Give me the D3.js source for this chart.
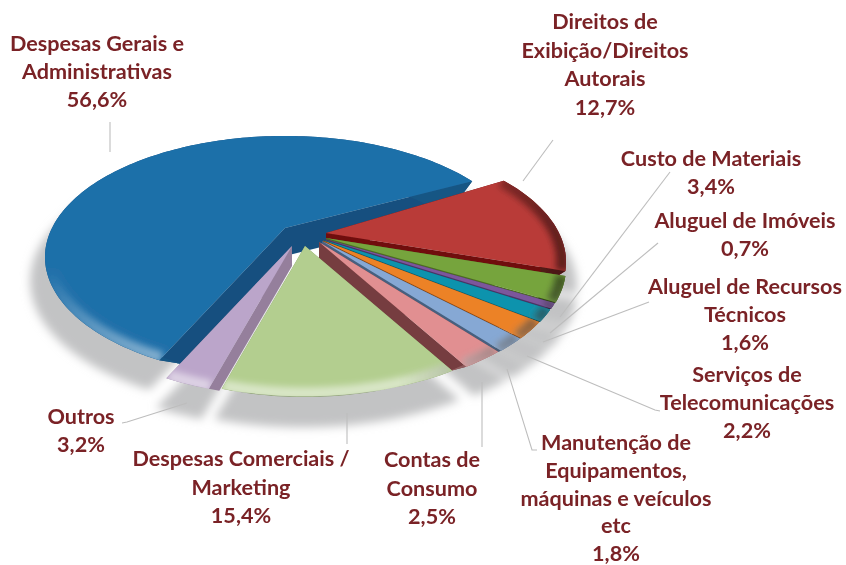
<!DOCTYPE html>
<html><head><meta charset="utf-8">
<script src="https://cdn.jsdelivr.net/npm/d3@7/dist/d3.min.js"></script>
<style>html,body{margin:0;padding:0;background:#fff}svg{display:block}
text{font-family:Lato,"Open Sans",sans-serif;font-weight:700;fill:#7a2326;text-anchor:middle}</style>
</head><body><div id="chart"></div>
<script>
// ---- data (clockwise from the start of the red slice)
const categories = ["Direitos de Exibição/Direitos Autorais","Custo de Materiais","Aluguel de Imóveis","Aluguel de Recursos Técnicos","Serviços de Telecomunicações","Manutenção de Equipamentos, máquinas e veículos etc","Contas de Consumo","Despesas Comerciais / Marketing","Outros","Despesas Gerais e Administrativas"];
const values = [12.7,3.4,0.7,1.6,2.2,1.8,2.5,15.4,3.2,56.6];
const valueLabels = ["12,7%","3,4%","0,7%","1,6%","2,2%","1,8%","2,5%","15,4%","3,2%","56,6%"];
const labelLines = [
 ["Direitos de","Exibição/Direitos","Autorais","12,7%"],["Custo de Materiais","3,4%"],["Aluguel de Imóveis","0,7%"],
 ["Aluguel de Recursos","Técnicos","1,6%"],["Serviços de","Telecomunicações","2,2%"],
 ["Manutenção de","Equipamentos,","máquinas e veículos","etc","1,8%"],["Contas de","Consumo","2,5%"],
 ["Despesas Comerciais /","Marketing","15,4%"],["Outros","3,2%"],["Despesas Gerais e","Administrativas","56,6%"]];

// ---- style and layout
const W=846,H=565;
const topColors=["#b93b38","#76a43c","#7b569c","#0f93ad","#ec8228","#86a8d4","#e18f91","#b3ce8f","#bba5ca","#1f6fa9"];
const wallColors=["#6f1111","#4d6c24","#4c3465","#0a5e6d","#8c4813","#46607f","#763c3f","#7f9562","#957f9c","#17507f"];
const labelX=[605,711,745,745,747,616,432,241,81,97];
const labelY=[22,159,221,287,375,443,460,459,417,44];
const lineGap=[28.7,27.5,28,28,28,27.8,28.5,28.5,28,28];
const leaders=[[[553,140],[523,181]],[[670,172],[560,317]],[[658,243],[550,333]],[[649,302],[543,342]],
 [[660,411],[655,410],[527,356]],[[537,450],[532,450],[507,369]],[[482,447],[482,382]],[[347,444],[347,413]],
 [[122,423],[127,422],[187,403]],[[110,122],[110,152]]];
const offX=[21,21,20,19,18,17,14,0,-13,-20], offY=[-3,2,3,4,4.5,5,6,10,10,-8];
const cx=305,cy=236,R=233,tilt=0.49,persp=0.24;
const depth=[20,20,20,20,20,20,20,20,20,28], baseShrink=[.9,.9,.9,.9,.9,.9,.9,.9,.9,.85];
const order=[9,0,1,2,3,4,5,6,8,7];

const pieAngles=d3.pie().sort(null).value(d=>d)(values);
// foreshortening of the tilted view: pie angle -> apparent rim angle (degrees)
const viewAngle=d3.scaleLinear().domain([0,45.7,89.6,145,156.5,360]).range([59,108,150,196,205,423]);
const toView=a=>viewAngle(a*180/Math.PI)*Math.PI/180;
function project(a,r,ox,oy,down){
  const u=Math.sin(a)*r, v=-Math.cos(a)*r, f=1/(1-persp*v);
  return [cx+ox+R*u*f, cy+oy+R*tilt*v*f+(down||0)];
}
const line=d3.line(), closed=d3.line().curve(d3.curveLinearClosed);
const slices=pieAngles.map((d,i)=>{
  const a0=toView(d.startAngle), a1=toView(d.endAngle);
  const steps=d3.range(0,1.0001,1/Math.max(6,Math.round((a1-a0)*40))).map(t=>a0+(a1-a0)*t);
  return {i,a0,a1,steps,ox:offX[i],oy:offY[i]};
});

const svg=d3.select("#chart").append("svg").attr("width",W).attr("height",H).attr("viewBox",[0,0,W,H]);
const defs=svg.append("defs");
function blur(id,sd){defs.append("filter").attr("id",id).attr("filterUnits","userSpaceOnUse").attr("x",0).attr("y",0).attr("width",W).attr("height",H)
 .append("feGaussianBlur").attr("stdDeviation",sd);}
blur("blurS",5);blur("blurR",3);blur("soft",0.6);blur("softT",0.35);
const litGrad=defs.append("linearGradient").attr("id","litG").attr("gradientUnits","userSpaceOnUse")
 .attr("x1",0).attr("y1",270).attr("x2",0).attr("y2",370);
[[0,0],[1,.5]].forEach(s=>litGrad.append("stop").attr("offset",s[0]).attr("stop-color","#fff").attr("stop-opacity",s[1]));
const darkGrad=defs.append("linearGradient").attr("id","darkG").attr("gradientUnits","userSpaceOnUse")
 .attr("x1",400).attr("y1",0).attr("x2",565).attr("y2",0);
[[0,0],[1,.5]].forEach(s=>darkGrad.append("stop").attr("offset",s[0]).attr("stop-color","#000").attr("stop-opacity",s[1]));

const topPts=s=>[[cx+s.ox,cy+s.oy],...s.steps.map(a=>project(a,1,s.ox,s.oy))];
const botPts=s=>[[cx+s.ox,cy+s.oy+depth[s.i]],...s.steps.map(a=>project(a,baseShrink[s.i],s.ox,s.oy,depth[s.i]))];

// drop shadow
const shadow=svg.append("g").attr("filter","url(#blurS)").attr("fill","#c2c3c4");
slices.forEach(s=>{
  shadow.append("path").attr("d",closed(s.steps.map(a=>project(a,1.05,s.ox-2,s.oy,21)).concat([[cx+s.ox,cy+s.oy+21]])));
});

// leader lines
svg.append("g").attr("fill","none").attr("stroke","#bdbdbd").attr("stroke-width",1.1)
 .selectAll("path").data(leaders).join("path").attr("d",d=>line(d));

// slices, back to front
const pieG=svg.append("g").attr("filter","url(#soft)");
order.forEach(k=>{
  const s=slices[k], g=pieG.append("g"), T=topPts(s), B=botPts(s);
  const n=T.length-1;
  // cut faces
  g.append("path").attr("fill",wallColors[k]).attr("d",
    closed([T[0],T[1],B[1],B[0]])+closed([T[0],T[n],B[n],B[0]]));
  // outer rim wall
  const rimTop=T.slice(1), rimBot=B.slice(1).reverse();
  const rimD=closed(rimTop.concat(rimBot));
  g.append("path").attr("fill",d3.color(topColors[k]).darker(0.7).formatHex()).attr("d",rimD);
  if(k!==9) g.append("path").attr("fill","url(#darkG)").attr("d",rimD);
  // top surface
  const clipId="clip"+k;
  defs.append("clipPath").attr("id",clipId).append("path").attr("d",closed(T));
  g.append("path").attr("fill",topColors[k]).attr("d",closed(T));
  const c=g.append("g").attr("clip-path",`url(#${clipId})`);
  const rimLine=line(s.steps.map(a=>project(a,0.985,s.ox,s.oy)));
  c.append("path").attr("fill","none").attr("stroke","url(#litG)").attr("stroke-width",12).attr("filter","url(#blurR)").attr("d",rimLine);
  if(k!==9) c.append("path").attr("fill","none").attr("stroke","url(#darkG)").attr("stroke-width",12).attr("filter","url(#blurR)").attr("d",rimLine);
});

// labels
const labels=svg.append("g").attr("font-size",21.6).attr("filter","url(#softT)");
labelLines.forEach((ls,i)=>{
  labels.append("text").selectAll("tspan").data(ls).join("tspan")
   .attr("x",labelX[i]).attr("y",(d,j)=>labelY[i]+j*lineGap[i]+7).text(d=>d);
});
</script></body></html>
